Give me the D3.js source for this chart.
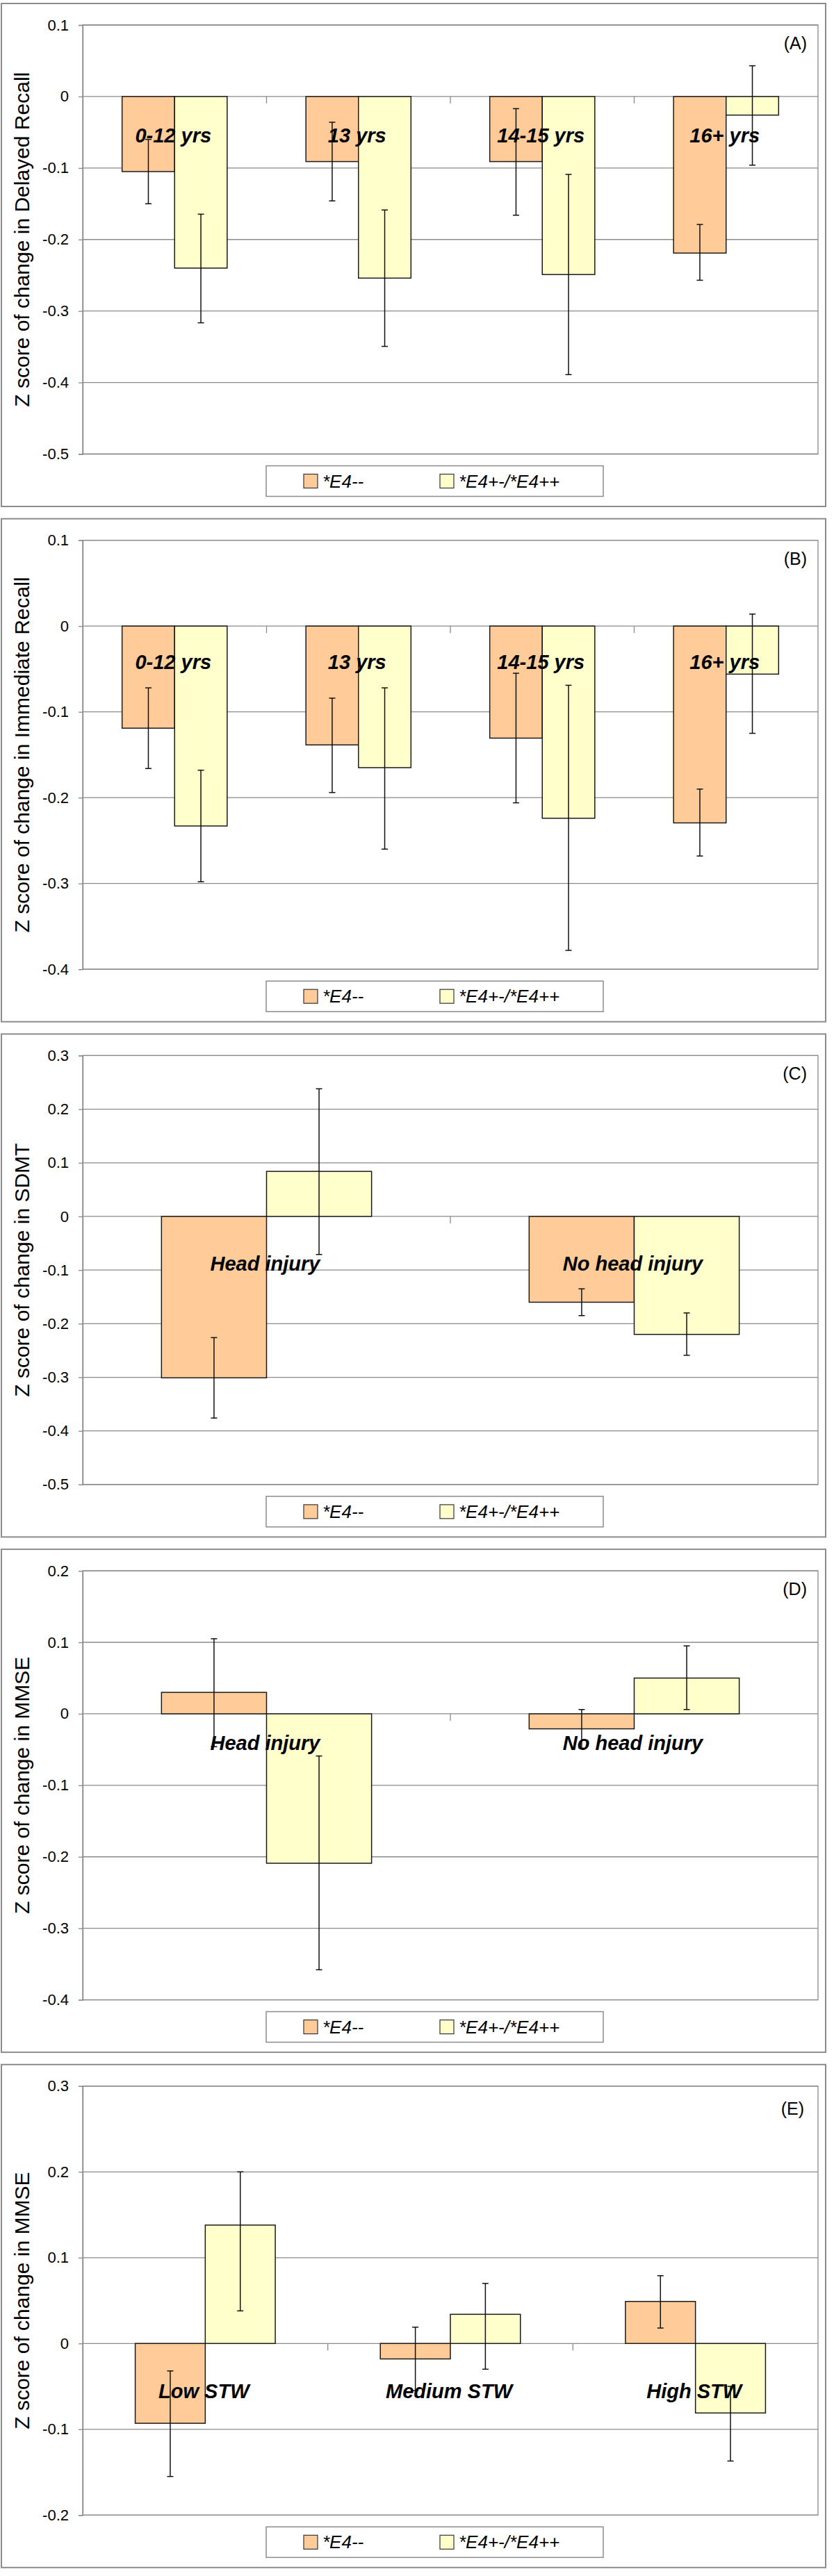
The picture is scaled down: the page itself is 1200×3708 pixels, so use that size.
<!DOCTYPE html>
<html><head><meta charset="utf-8">
<script src="https://cdn.jsdelivr.net/npm/d3@7"></script>
<style>body{margin:0;background:#fff}svg{display:block}</style>
</head><body>
<svg id="chart" width="1200" height="3708"></svg>
<script>
// ---------- data ----------
const seriesNames = ["*E4--", "*E4+-/*E4++"];
const seriesColors = ["#FFCC99", "#FFFFCC"];

// Panel A: Delayed Recall
const catsA = ["0-12 yrs", "13 yrs", "14-15 yrs", "16+ yrs"];
const negA = [-0.105, -0.091, -0.091, -0.219];
const negLowA = [-0.150, -0.146, -0.166, -0.257];
const negHighA = [-0.060, -0.036, -0.017, -0.179];
const posA = [-0.240, -0.254, -0.249, -0.026];
const posLowA = [-0.3165, -0.3495, -0.389, -0.096];
const posHighA = [-0.1646, -0.1587, -0.109, 0.043];
const ticksA = [0.1, 0, -0.1, -0.2, -0.3, -0.4, -0.5];
const tickLabelsA = ["0.1", "0", "-0.1", "-0.2", "-0.3", "-0.4", "-0.5"];

// Panel B: Immediate Recall
const catsB = ["0-12 yrs", "13 yrs", "14-15 yrs", "16+ yrs"];
const negB = [-0.119, -0.1385, -0.1306, -0.2294];
const negLowB = [-0.166, -0.194, -0.206, -0.268];
const negHighB = [-0.072, -0.084, -0.055, -0.190];
const posB = [-0.233, -0.165, -0.224, -0.056];
const posLowB = [-0.298, -0.260, -0.378, -0.125];
const posHighB = [-0.168, -0.072, -0.069, 0.014];
const ticksB = [0.1, 0, -0.1, -0.2, -0.3, -0.4];
const tickLabelsB = ["0.1", "0", "-0.1", "-0.2", "-0.3", "-0.4"];

// Panel C: SDMT
const catsC = ["Head injury", "No head injury"];
const negC = [-0.301, -0.160];
const negLowC = [-0.376, -0.185];
const negHighC = [-0.226, -0.135];
const posC = [0.084, -0.220];
const posLowC = [-0.071, -0.259];
const posHighC = [0.238, -0.180];
const ticksC = [0.3, 0.2, 0.1, 0, -0.1, -0.2, -0.3, -0.4, -0.5];
const tickLabelsC = ["0.3", "0.2", "0.1", "0", "-0.1", "-0.2", "-0.3", "-0.4", "-0.5"];

// Panel D: MMSE by head injury
const catsD = ["Head injury", "No head injury"];
const negD = [0.030, -0.021];
const negLowD = [-0.046, -0.048];
const negHighD = [0.105, 0.006];
const posD = [-0.209, 0.050];
const posLowD = [-0.358, 0.006];
const posHighD = [-0.059, 0.095];
const ticksD = [0.2, 0.1, 0, -0.1, -0.2, -0.3, -0.4];
const tickLabelsD = ["0.2", "0.1", "0", "-0.1", "-0.2", "-0.3", "-0.4"];

// Panel E: MMSE by STW
const catsE = ["Low STW", "Medium STW", "High STW"];
const negE = [-0.093, -0.018, 0.049];
const negLowE = [-0.155, -0.055, 0.018];
const negHighE = [-0.032, 0.019, 0.079];
const posE = [0.138, 0.034, -0.081];
const posLowE = [0.038, -0.030, -0.137];
const posHighE = [0.200, 0.070, -0.050];
const ticksE = [0.3, 0.2, 0.1, 0, -0.1, -0.2];
const tickLabelsE = ["0.3", "0.2", "0.1", "0", "-0.1", "-0.2"];

const panels = [
  {tag: "(A)", title: "Z score of change in Delayed Recall", cats: catsA, vals: [negA, posA], lows: [negLowA, posLowA], highs: [negHighA, posHighA], ticks: ticksA, tickLabels: tickLabelsA, labelAt: -0.064},
  {tag: "(B)", title: "Z score of change in Immediate Recall", cats: catsB, vals: [negB, posB], lows: [negLowB, posLowB], highs: [negHighB, posHighB], ticks: ticksB, tickLabels: tickLabelsB, labelAt: -0.050},
  {tag: "(C)", title: "Z score of change in SDMT", cats: catsC, vals: [negC, posC], lows: [negLowC, posLowC], highs: [negHighC, posHighC], ticks: ticksC, tickLabels: tickLabelsC, labelAt: -0.101},
  {tag: "(D)", title: "Z score of change in MMSE", cats: catsD, vals: [negD, posD], lows: [negLowD, posLowD], highs: [negHighD, posHighD], ticks: ticksD, tickLabels: tickLabelsD, labelAt: -0.051},
  {tag: "(E)", title: "Z score of change in MMSE", cats: catsE, vals: [negE, posE], lows: [negLowE, posLowE], highs: [negHighE, posHighE], ticks: ticksE, tickLabels: tickLabelsE, labelAt: -0.064}
];

// ---------- layout ----------
const svg = d3.select("#chart");
const FONT = "'Liberation Sans', Arial, sans-serif";
const panelStep = 741.7, panelH = 724, panelX = 2, panelW = 1186;
const plotL = 119, plotR = 1177, plotOffTop = 31, plotH = 617.5;

panels.forEach((p, i) => {
  const top = 5 + i * panelStep;
  const g = svg.append("g");
  // chart area border
  g.append("rect").attr("x", panelX).attr("y", top).attr("width", panelW).attr("height", panelH)
    .attr("fill", "#fff").attr("stroke", "#8c8c8c").attr("stroke-width", 2);

  const pTop = top + plotOffTop, pBot = pTop + plotH;
  const y = d3.scaleLinear().domain([d3.min(p.ticks), d3.max(p.ticks)]).range([pBot, pTop]);
  const x0 = d3.scaleBand().domain(p.cats).range([plotL, plotR]).padding(0);
  const x1 = d3.scaleBand().domain([0, 1]).range([0, x0.bandwidth()]).paddingInner(0).paddingOuter(0.75);

  // gridlines
  g.append("g").selectAll("line").data(p.ticks).join("line")
    .attr("x1", plotL).attr("x2", plotR).attr("y1", d => y(d)).attr("y2", d => y(d))
    .attr("stroke", "#8a8a8a").attr("stroke-width", 1.3);
  // plot area border
  g.append("rect").attr("x", plotL).attr("y", pTop).attr("width", plotR - plotL).attr("height", plotH)
    .attr("fill", "none").attr("stroke", "#8a8a8a").attr("stroke-width", 1.3);

  // category boundary ticks on zero line
  const bounds = d3.range(1, p.cats.length).map(k => plotL + k * x0.step());
  g.append("g").selectAll("line").data(bounds).join("line")
    .attr("x1", d => d).attr("x2", d => d).attr("y1", y(0)).attr("y2", y(0) + 10)
    .attr("stroke", "#8a8a8a").attr("stroke-width", 1.3);

  // bars
  [0, 1].forEach(s => {
    g.append("g").selectAll("rect").data(p.cats).join("rect")
      .attr("x", (c) => x0(c) + x1(s))
      .attr("width", x1.bandwidth())
      .attr("y", (c, k) => y(Math.max(0, p.vals[s][k])))
      .attr("height", (c, k) => Math.abs(y(p.vals[s][k]) - y(0)))
      .attr("fill", seriesColors[s]).attr("stroke", "#1a1a1a").attr("stroke-width", 1.5);
  });
  // error bars
  [0, 1].forEach(s => {
    const eg = g.append("g").attr("stroke", "#111").attr("stroke-width", 1.5);
    p.cats.forEach((c, k) => {
      const cx = x0(c) + x1(s) + x1.bandwidth() / 2;
      const yl = y(p.lows[s][k]), yh = y(p.highs[s][k]);
      eg.append("line").attr("x1", cx).attr("x2", cx).attr("y1", yl).attr("y2", yh);
      eg.append("line").attr("x1", cx - 4.5).attr("x2", cx + 4.5).attr("y1", yl).attr("y2", yl);
      eg.append("line").attr("x1", cx - 4.5).attr("x2", cx + 4.5).attr("y1", yh).attr("y2", yh);
    });
  });

  // category labels
  g.append("g").selectAll("text").data(p.cats).join("text")
    .attr("x", c => x0(c) + x0.bandwidth() / 2 - 2)
    .attr("y", y(p.labelAt))
    .attr("text-anchor", "middle")
    .attr("font-family", FONT).attr("font-weight", "bold").attr("font-style", "italic")
    .attr("font-size", 29).attr("fill", "#000")
    .text(c => c);

  // y axis
  const axis = d3.axisLeft(y).tickValues(p.ticks).tickFormat((d, k) => p.tickLabels[k]).tickSize(6).tickPadding(14);
  const ag = g.append("g").attr("transform", `translate(${plotL},0)`).call(axis);
  ag.select(".domain").attr("stroke", "#8a8a8a").attr("stroke-width", 1.3);
  ag.selectAll(".tick line").attr("stroke", "#8a8a8a").attr("stroke-width", 1.3);
  ag.selectAll(".tick text").attr("font-family", FONT).attr("font-size", 22).attr("fill", "#000");

  // y title
  g.append("text")
    .attr("transform", `translate(42,${(pTop + pBot) / 2}) rotate(-90)`)
    .attr("text-anchor", "middle")
    .attr("font-family", FONT).attr("font-size", 30).attr("fill", "#000")
    .text(p.title);

  // panel tag
  g.append("text").attr("x", i === 4 ? 1157 : 1161).attr("y", pTop + (i === 4 ? 41 : 35))
    .attr("text-anchor", "end").attr("font-family", FONT).attr("font-size", 25).attr("fill", "#000")
    .text(p.tag);

  // legend
  const lTop = pBot + 17;
  const lg = g.append("g");
  lg.append("rect").attr("x", 383).attr("y", lTop).attr("width", 485).attr("height", 44)
    .attr("fill", "#fff").attr("stroke", "#8c8c8c").attr("stroke-width", 1.5);
  const legX = [437, 633];
  seriesNames.forEach((n, s) => {
    lg.append("rect").attr("x", legX[s]).attr("y", lTop + 12).attr("width", 20).attr("height", 20)
      .attr("fill", seriesColors[s]).attr("stroke", "#333").attr("stroke-width", 1.2);
    lg.append("text").attr("x", legX[s] + 27).attr("y", lTop + 31)
      .attr("font-family", FONT).attr("font-style", "italic").attr("font-size", 26).attr("fill", "#000")
      .text(n);
  });
});
</script>
</body></html>
